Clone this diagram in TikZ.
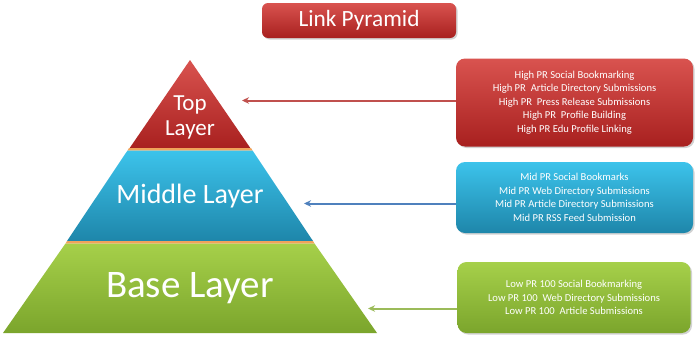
\documentclass[tikz,border=0pt]{standalone}
\usepackage{fontspec}
\setmainfont{Carlito}
\usetikzlibrary{shadows,arrows.meta}
\definecolor{redA}{HTML}{D9534F}
\definecolor{redB}{HTML}{A8201F}
\definecolor{blueA}{HTML}{3CC3EB}
\definecolor{blueB}{HTML}{1E86AA}
\definecolor{greenA}{HTML}{A6D04A}
\definecolor{greenB}{HTML}{7BA52C}
\definecolor{stripe}{HTML}{F0A35A}
\definecolor{arrRed}{HTML}{C0504D}
\definecolor{arrBlue}{HTML}{4F81BD}
\definecolor{arrGreen}{HTML}{9BBB59}
\tikzset{
  infobox/.style={rounded corners=9pt, minimum width=237pt, text=white, align=center,
    font=\fontsize{10.6}{13.6}\selectfont, drop shadow={opacity=0.35, shadow xshift=1.5pt, shadow yshift=-1.5pt}, inner sep=0pt},
  redbox/.style={infobox, top color=redA, bottom color=redB},
  bluebox/.style={infobox, top color=blueA, bottom color=blueB},
  greenbox/.style={infobox, top color=greenA, bottom color=greenB},
  layertext/.style={text=white, align=center},
  pointer/.style={line width=2pt, -{Stealth[length=7pt,width=6.5pt]}},
}
\begin{document}
\begin{tikzpicture}[x=1pt,y=-1pt]
\useasboundingbox[fill=white] (0,0) rectangle (700,340);
% title
\node[redbox, minimum width=194pt, minimum height=35pt, rounded corners=6pt, font=\fontsize{23.3}{26}\selectfont] (title) at (359,20.5) {Link Pyramid};
% pyramid
\shade[top color=redA, bottom color=redB] (190,60) -- (251,149) -- (129,149) -- cycle;
\fill[stripe] (129,148) -- (251,148) -- (252.5,150.5) -- (127.5,150.5) -- cycle;
\shade[top color=blueA, bottom color=blueB] (127.5,150.5) -- (252.5,150.5) -- (313,241) -- (67,241) -- cycle;
\fill[stripe] (67,241) -- (313,241) -- (314.5,243.5) -- (65.5,243.5) -- cycle;
\shade[top color=greenA, bottom color=greenB] (65.5,243.5) -- (314.5,243.5) -- (377,333) -- (3,333) -- cycle;
\node[layertext, font=\fontsize{23}{25}\selectfont] (top) at (190,117) {Top\\Layer};
\node[layertext, font=\fontsize{28}{30}\selectfont] (mid) at (190,196) {Middle Layer};
\node[layertext, font=\fontsize{39}{40}\selectfont] (base) at (190,288) {Base Layer};
% boxes
\node[redbox, minimum height=88pt] (hi) at (574.5,102.5) {High PR Social Bookmarking\\High PR\ \ Article Directory Submissions\\High PR\ \ Press Release Submissions\\High PR\ \ Profile Building\\High PR Edu Profile Linking};
\node[bluebox, minimum height=71pt] (mi) at (574.5,197.5) {Mid PR Social Bookmarks\\Mid PR Web Directory Submissions\\Mid PR Article Directory Submissions\\Mid PR RSS Feed Submission};
\node[greenbox, minimum height=71pt, minimum width=233pt] (lo) at (574,297.5) {Low PR 100 Social Bookmarking\\Low PR 100\ \ Web Directory Submissions\\Low PR 100\ \ Article Submissions};
% arrow targets
\coordinate (tHi) at (242,100.5);
\coordinate (tMi) at (304,203.5);
\coordinate (tLo) at (368,308.5);
\draw[pointer, arrRed] (hi.west |- tHi) -- (tHi);
\draw[pointer, arrBlue] (mi.west |- tMi) -- (tMi);
\draw[pointer, arrGreen] (lo.west |- tLo) -- (tLo);
\end{tikzpicture}
\end{document}
